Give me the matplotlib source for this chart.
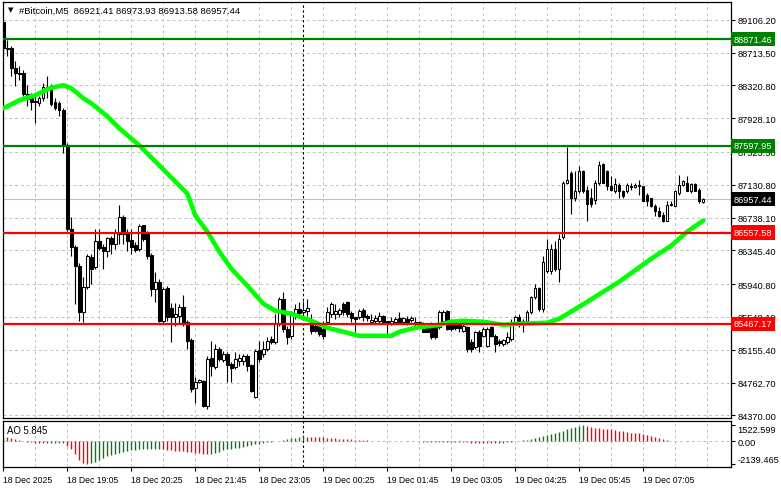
import matplotlib
matplotlib.use("Agg")
import matplotlib.pyplot as plt
from matplotlib.patches import Rectangle
from matplotlib.transforms import blended_transform_factory

plt.rcParams['font.family'] = ['Liberation Sans', 'DejaVu Sans']

# ---------------- data ----------------
symbol = "#Bitcoin,M5"

opens = [89078, 88754, 88766, 88526, 88466, 88466, 88214, 88166, 88130, 88106,
         88166, 88298, 88298, 88118, 88106, 88022, 87602, 86606, 86390, 86162,
         85610, 85910, 86270, 86150, 86462, 86390, 86342, 86498, 86426, 86546,
         86750, 86546, 86474, 86414, 86366, 86654, 86558, 86294, 85886, 85970,
         85502, 85898, 85658, 85550, 85562, 85670, 85490, 85274, 84698, 84770,
         84782, 84482, 85058, 84950, 85166, 85034, 85106, 84986, 84950, 85022,
         85022, 85082, 84974, 84590, 85154, 85106, 85166, 85286, 85250, 85466,
         85766, 85406, 85322, 85586, 85646, 85610, 85622, 85490, 85442, 85442,
         85406, 85490, 85586, 85586, 85586, 85706, 85730, 85598, 85550, 85550,
         85634, 85562, 85490, 85502, 85502, 85562, 85502, 85466, 85490, 85538,
         85490, 85526, 85514, 85490, 85490, 85466, 85430, 85442, 85442, 85430,
         85502, 85622, 85466, 85466, 85466, 85382, 85430, 85250, 85190, 85370,
         85322, 85202, 85430, 85322, 85262, 85226, 85250, 85286, 85490, 85550,
         85502, 85502, 85610, 85790, 85898, 85646, 86102, 86102, 86366, 86126,
         86510, 87146, 87266, 86966, 87050, 87290, 87062, 86966, 86942, 87146,
         87374, 87290, 87110, 87050, 87122, 87050, 87050, 87110, 87098, 87122,
         87110, 87002, 86966, 86882, 86822, 86774, 86702, 86894, 86882, 87026,
         87122, 87146, 87050, 87134, 87062, 86921.41]

highs = [89102, 88862, 88790, 88610, 88550, 88502, 88322, 88226, 88202, 88190,
         88346, 88430, 88334, 88166, 88130, 88046, 87626, 86750, 86414, 86198,
         86030, 86306, 86306, 86606, 86606, 86426, 86510, 86522, 86606, 86894,
         86774, 86606, 86606, 86450, 86666, 86654, 86582, 86318, 86090, 86006,
         85910, 85922, 85718, 85718, 85706, 85814, 85514, 85298, 84830, 84806,
         84794, 85082, 85262, 85226, 85190, 85142, 85130, 85010, 85130, 85106,
         85106, 85106, 84986, 85166, 85262, 85262, 85310, 85322, 85586, 85790,
         85850, 85442, 85622, 85706, 85730, 85742, 85766, 85586, 85502, 85466,
         85502, 85670, 85730, 85706, 85658, 85730, 85742, 85622, 85550, 85646,
         85658, 85586, 85586, 85574, 85610, 85574, 85502, 85550, 85550, 85610,
         85550, 85562, 85562, 85550, 85502, 85490, 85466, 85490, 85466, 85634,
         85634, 85634, 85526, 85502, 85490, 85502, 85442, 85286, 85382, 85394,
         85430, 85430, 85442, 85346, 85286, 85286, 85370, 85526, 85574, 85586,
         85526, 85634, 85802, 85946, 85910, 86282, 86486, 86426, 86462, 86546,
         87170, 87578, 87290, 87290, 87350, 87302, 87110, 87086, 87182, 87410,
         87386, 87302, 87230, 87206, 87146, 87062, 87146, 87146, 87146, 87182,
         87110, 87026, 86966, 86906, 86870, 86810, 86930, 86930, 87062, 87242,
         87182, 87230, 87146, 87146, 87086, 86973.93]

lows = [88682, 88670, 88430, 88310, 88382, 88190, 88070, 88022, 87866, 88070,
        88130, 88166, 88070, 88022, 87950, 87506, 86582, 86282, 85706, 85502,
        85490, 85886, 85946, 86126, 86354, 86126, 86270, 86306, 86366, 86426,
        86426, 86342, 86306, 86330, 86342, 86462, 86246, 85802, 85730, 85490,
        85478, 85502, 85250, 85442, 85466, 85442, 85166, 84650, 84518, 84758,
        84470, 84446, 84842, 84926, 85022, 85010, 84770, 84770, 84926, 84962,
        84974, 84902, 84650, 84578, 85010, 85070, 85142, 85226, 85226, 85442,
        85370, 85226, 85286, 85526, 85550, 85574, 85562, 85346, 85370, 85322,
        85286, 85466, 85550, 85526, 85550, 85574, 85550, 85490, 85370, 85526,
        85502, 85502, 85466, 85466, 85478, 85466, 85322, 85454, 85466, 85466,
        85466, 85454, 85490, 85442, 85430, 85370, 85370, 85286, 85286, 85406,
        85478, 85394, 85382, 85394, 85370, 85370, 85130, 85130, 85166, 85130,
        85310, 85190, 85310, 85130, 85202, 85202, 85226, 85262, 85466, 85430,
        85370, 85490, 85586, 85766, 85622, 85610, 86078, 86066, 86102, 85970,
        86486, 87134, 86786, 86930, 87026, 87026, 86702, 86870, 86906, 87122,
        87146, 87062, 87050, 87026, 86966, 86966, 87026, 87062, 87086, 87002,
        86930, 86882, 86870, 86762, 86750, 86690, 86702, 86882, 86882, 87002,
        87110, 87050, 87026, 87050, 86918, 86913.58]

closes = [88766, 88766, 88526, 88466, 88454, 88214, 88154, 88118, 88118, 88166,
          88298, 88286, 88094, 88046, 88022, 87602, 86606, 86390, 86162, 85610,
          85910, 86282, 86126, 86462, 86378, 86342, 86498, 86426, 86570, 86750,
          86546, 86462, 86390, 86354, 86642, 86486, 86282, 85886, 85970, 85502,
          85886, 85550, 85550, 85586, 85670, 85490, 85262, 84686, 84770, 84794,
          84482, 85046, 84962, 85166, 85046, 85106, 84974, 84938, 85046, 85058,
          85082, 84962, 84662, 85142, 85046, 85166, 85262, 85250, 85466, 85766,
          85406, 85310, 85586, 85646, 85598, 85634, 85658, 85382, 85382, 85346,
          85322, 85610, 85706, 85622, 85634, 85610, 85586, 85538, 85526, 85622,
          85550, 85538, 85514, 85538, 85562, 85490, 85466, 85502, 85526, 85490,
          85538, 85490, 85538, 85466, 85442, 85370, 85370, 85310, 85310, 85610,
          85610, 85406, 85406, 85418, 85418, 85442, 85166, 85166, 85370, 85202,
          85406, 85406, 85322, 85226, 85238, 85274, 85310, 85490, 85550, 85466,
          85478, 85610, 85790, 85898, 85646, 86210, 86366, 86366, 86126, 86486,
          87146, 87182, 86966, 87050, 87290, 87050, 86906, 86906, 87146, 87362,
          87146, 87110, 87062, 87134, 87050, 86990, 87122, 87098, 87122, 87110,
          86930, 86930, 86882, 86822, 86762, 86702, 86894, 86906, 87050, 87122,
          87170, 87050, 87134, 87050, 86930, 86957.44]

# moving average (bar index, value)
ma_idx = [0, 4, 8, 10, 12, 15, 17, 20, 22, 26, 29, 34, 39, 44, 46, 48, 51, 54,
          57, 61, 65, 68, 72, 77, 81, 85, 89, 97, 99, 103, 109, 112, 115, 120,
          125, 129, 136, 139, 146, 154, 162, 167, 171, 175]
ma_val = [88046, 88142, 88202, 88250, 88292, 88322, 88286, 88166, 88106, 87950,
          87806, 87602, 87362, 87122, 87026, 86762, 86570, 86330, 86126, 85922,
          85706, 85622, 85586, 85502, 85418, 85370, 85322, 85322, 85370, 85418,
          85454, 85490, 85502, 85490, 85454, 85466, 85478, 85526, 85730, 85970,
          86246, 86402, 86570, 86702]

# Awesome Oscillator values per bar
ao = [400, 380, 310, 220, 120, 20, -60, -120, -170, -200,
      -220, -210, -200, -190, -180, -170, -465, -775, -1240, -1770,
      -2015, -2139.465, -2077, -1953, -1736, -1581, -1426, -1302, -1209, -1116,
      -1023, -930, -868, -806, -775, -744, -735, -725, -718, -710,
      -760, -800, -850, -890, -930, -970, -1010, -1060, -1110, -1160,
      -1200, -1240, -1180, -1085, -990, -880, -775, -720, -670, -620,
      -550, -480, -400, -320, -240, -160, -120, -90, -30, 20,
      100, 170, 240, 310, 380, 440, 420, 400, 380, 355,
      330, 305, 280, 255, 230, 205, 180, 155, 130, 110,
      90, 70, 50, 35, 20, 10, -10, -20, -30, -35,
      -40, -30, -20, -25, -40, -60, -80, -100, -90, -80,
      -70, -60, -50, -60, -80, -100, -120, -140, -150, -160,
      -170, -175, -180, -170, -160, -150, -120, -80, -30, 20,
      60, 90, 155, 250, 370, 465, 560, 650, 745, 840,
      960, 1085, 1210, 1330, 1425, 1522.599, 1400, 1270, 1210, 1180,
      1150, 1115, 1085, 1020, 960, 900, 840, 775, 745, 710,
      650, 590, 495, 400, 310, 150, 90, 50, 35, 25,
      30, 28, 20, 15, 10, 5.845]

price_ticks = [89106.20, 88713.50, 88320.80, 87928.10, 87523.50, 87130.80,
               86738.10, 86345.40, 85940.80, 85548.10, 85155.40, 84762.70, 84370.00]
price_tick_labels = ["89106.20", "88713.50", "88320.80", "87928.10", "87523.50",
                     "87130.80", "86738.10", "86345.40", "85940.80", "85548.10",
                     "85155.40", "84762.70", "84370.00"]

time_tick_idx = [0, 16, 32, 48, 64, 80, 96, 112, 128, 144, 160]
time_labels = ["18 Dec 2025", "18 Dec 19:05", "18 Dec 20:25", "18 Dec 21:45",
               "18 Dec 23:05", "19 Dec 00:25", "19 Dec 01:45", "19 Dec 03:05",
               "19 Dec 04:25", "19 Dec 05:45", "19 Dec 07:05"]
day_separator_idx = 75

green_levels = [88871.46, 87597.95]
red_levels = [86557.58, 85467.17]
last_price = 86957.44

ao_ticks = [1522.599, 0.0, -2139.465]
ao_tick_labels = ["1522.599", "0.00", "-2139.465"]

# ---------------- figure ----------------
W, H = 781, 489
fig = plt.figure(figsize=(W / 100, H / 100), dpi=100)
fig.patch.set_facecolor("white")

left, right = 3.0, 731.0
main_top, main_bot = 2.7, 418.5
ao_top, ao_bot = 421.7, 468.3

ax = fig.add_axes([left / W, 1 - main_bot / H, (right - left) / W, (main_bot - main_top) / H])
ax2 = fig.add_axes([left / W, 1 - ao_bot / H, (right - left) / W, (ao_bot - ao_top) / H])

xmin, xmax = -0.075, 181.925
for a in (ax, ax2):
    a.set_xlim(xmin, xmax)
    a.set_facecolor("white")
    for s in a.spines.values():
        s.set_color("black")
        s.set_linewidth(0.9)

ax.set_ylim(84344, 89322)
ax2.set_ylim(-2447, 1895)

grid_kw = dict(color="#c0c0c0", lw=0.7, ls=(0, (3, 3)), zorder=0.5)
for n in range(0, 177, 8):
    ax.axvline(n, **grid_kw)
    ax2.axvline(n, **grid_kw)
for p in price_ticks:
    ax.axhline(p, **grid_kw)
ax2.axhline(0, **grid_kw)

# day separator
for a in (ax, ax2):
    a.axvline(day_separator_idx, color="black", lw=0.8, ls=(0, (2.2, 2.2)), zorder=0.8)

# last price line
ax.axhline(last_price, color="#c0c0c0", lw=0.8, zorder=0.9)

# candles
n_bars = len(closes)
ax.vlines(range(n_bars), lows, highs, color="black", lw=0.8, zorder=2)
bw = 0.6
for i in range(n_bars):
    o, c = opens[i], closes[i]
    lo, hi = min(o, c), max(o, c)
    hgt = max(hi - lo, 6)
    fc = "white" if c >= o else "black"
    ax.add_patch(Rectangle((i - bw / 2, lo), bw, hgt, facecolor=fc,
                           edgecolor="black", lw=0.75, zorder=2.2))

# moving average
ax.plot(ma_idx, ma_val, color="#00ff00", lw=3.3, solid_capstyle="round",
        solid_joinstyle="round", zorder=3)

# horizontal levels
for v in green_levels:
    ax.axhline(v, color="#008000", lw=1.6, zorder=4)
for v in red_levels:
    ax.axhline(v, color="#ff0000", lw=1.6, zorder=4)

# y axis labels
ax.set_xticks([])
ax.yaxis.tick_right()
ax.set_yticks(price_ticks)
ax.set_yticklabels(price_tick_labels)
ax.tick_params(axis="y", length=3, width=0.8, pad=1.5, labelsize=6.7, colors="black")

trans = blended_transform_factory(ax.transAxes, ax.transData)
x_lab = 1.0 + 2.5 / (right - left)
label_items = ([(v, "#008000") for v in green_levels] +
               [(v, "#ff0000") for v in red_levels] +
               [(last_price, "black")])
for v, col in label_items:
    ax.text(x_lab, v, f"{v:.2f}", transform=trans, ha="left", va="center",
            fontsize=6.7, color="white", zorder=10, clip_on=False,
            bbox=dict(boxstyle="square,pad=0.28", fc=col, ec="none"))

# title
fig.text(7.5 / W, 1 - 10.5 / H, "\u25bc", fontsize=5, family="DejaVu Sans",
         va="center", ha="left", color="black")
title = f"{symbol}  {opens[-1]:.2f} {highs[-1]:.2f} {lows[-1]:.2f} {closes[-1]:.2f}"
fig.text(19 / W, 1 - 11 / H, title, fontsize=6.8, va="center", ha="left", color="black")

# AO histogram
ao_cols = []
for i, v in enumerate(ao):
    if i == 0 or v >= ao[i - 1]:
        ao_cols.append("#008000")
    else:
        ao_cols.append("#ff0000")
ax2.vlines(range(len(ao)), 0, ao, colors=ao_cols, lw=1.0, zorder=2)

ax2.yaxis.tick_right()
ax2.set_yticks(ao_ticks)
ax2.set_yticklabels(ao_tick_labels)
ax2.tick_params(axis="y", length=3, width=0.8, pad=1.5, labelsize=6.7)
ylabs = ax2.get_yticklabels()
ylabs[0].set_va("top")
ylabs[-1].set_va("bottom")

ax2.set_xticks(time_tick_idx)
ax2.set_xticklabels(time_labels)
ax2.tick_params(axis="x", length=3, width=0.8, pad=2.5, labelsize=6.2, direction="out")
for lbl in ax2.get_xticklabels():
    lbl.set_ha("left")

fig.text(7.5 / W, 1 - 431 / H, f"AO {ao[-1]:.3f}", fontsize=6.9, va="center",
         ha="left", color="black")

fig.savefig("out.png", dpi=100, facecolor="white")
